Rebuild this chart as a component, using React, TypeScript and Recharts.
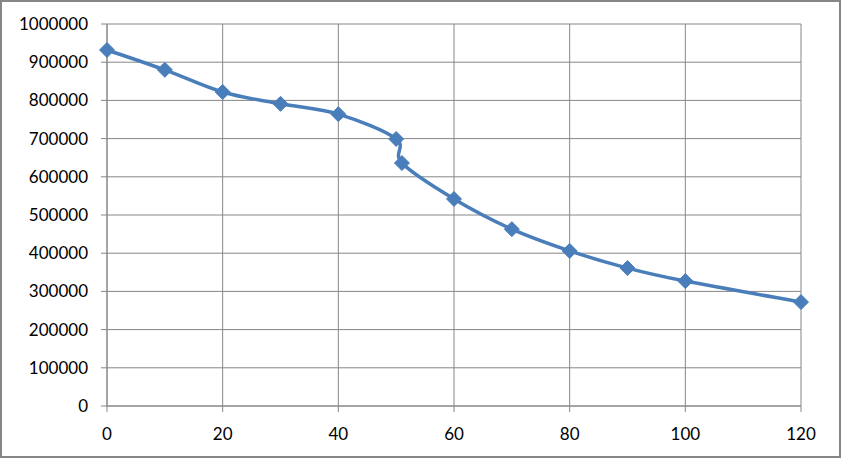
import React from "react"
import { LineChart, Line, XAxis, YAxis, CartesianGrid } from "recharts"

const xValues = [0, 10, 20, 30, 40, 50, 51, 60, 70, 80, 90, 100, 120]
const yValues = [932000, 880000, 822000, 791000, 764000, 699000, 636000, 542000, 463000, 406000, 361000, 327000, 272000]
const xTicks = [0, 20, 40, 60, 80, 100, 120]
const yTicks = [0, 100000, 200000, 300000, 400000, 500000, 600000, 700000, 800000, 900000, 1000000]

const data = xValues.map((x, i) => ({ x, y: yValues[i] }))

const BLUE = "#4a7ebb"
const GRID = "#868686"

// Catmull-Rom style smoothing, closer to Excel's "smoothed line" than monotone
const smoothCurve = (context: any) => {
  let pts: number[][] = []
  return {
    areaStart() {},
    areaEnd() {},
    lineStart() {
      pts = []
    },
    point(x: number, y: number) {
      pts.push([+x, +y])
    },
    lineEnd() {
      const n = pts.length
      if (!n) return
      context.moveTo(pts[0][0], pts[0][1])
      const k = 1 / 6
      for (let i = 0; i < n - 1; i++) {
        const p0 = pts[Math.max(i - 1, 0)]
        const p1 = pts[i]
        const p2 = pts[i + 1]
        const p3 = pts[Math.min(i + 2, n - 1)]
        context.bezierCurveTo(
          p1[0] + k * (p2[0] - p0[0]),
          p1[1] + k * (p2[1] - p0[1]),
          p2[0] - k * (p3[0] - p1[0]),
          p2[1] - k * (p3[1] - p1[1]),
          p2[0],
          p2[1]
        )
      }
    },
  }
}

const Diamond = (props: any) => {
  const { cx, cy } = props
  if (cx == null || cy == null) return null
  const r = 7.5
  return (
    <polygon
      points={`${cx},${cy - r} ${cx + r},${cy} ${cx},${cy + r} ${cx - r},${cy}`}
      fill={BLUE}
      stroke={BLUE}
      strokeWidth={1}
    />
  )
}

const tickStyle = { fill: "#000", fontSize: 17, fontFamily: "Lato, 'Noto Sans', sans-serif" }

export default function App() {
  return (
    <div style={{ position: "relative", width: 841, height: 458, background: "#fff" }}>
      <style>{`body{margin:0}`}</style>
      <LineChart
        width={841}
        height={458}
        data={data}
        margin={{ top: 24, right: 40, left: 0, bottom: 22 }}
      >
        <CartesianGrid stroke={GRID} strokeWidth={1} />
        <XAxis
          type="number"
          dataKey="x"
          domain={[0, 120]}
          ticks={xTicks}
          height={30}
          tickSize={6}
          tickMargin={16}
          stroke={GRID}
          tick={tickStyle}
        />
        <YAxis
          type="number"
          domain={[0, 1000000]}
          ticks={yTicks}
          width={107}
          tickSize={6}
          tickMargin={13}
          stroke={GRID}
          tick={tickStyle}
        />
        <Line
          type={smoothCurve as any}
          dataKey="y"
          stroke={BLUE}
          strokeWidth={3.5}
          dot={<Diamond />}
          activeDot={false}
          isAnimationActive={false}
        />
      </LineChart>
      <div
        style={{
          position: "absolute",
          left: 0,
          top: 0,
          width: 841,
          height: 458,
          boxSizing: "border-box",
          border: `2px solid ${GRID}`,
          pointerEvents: "none",
        }}
      />
    </div>
  )
}
